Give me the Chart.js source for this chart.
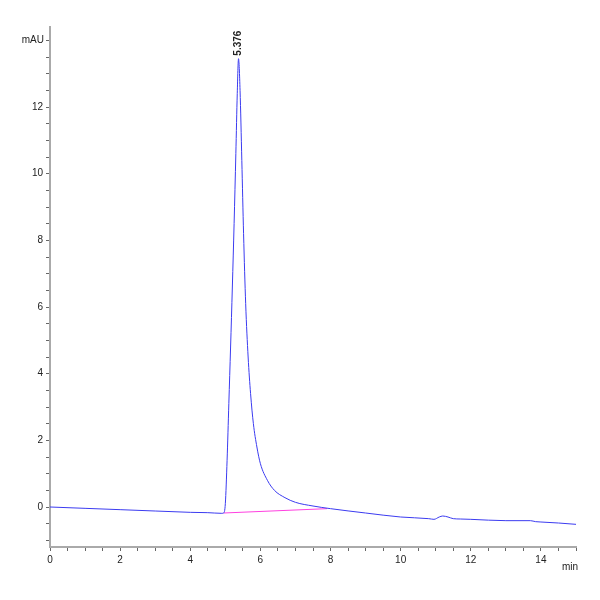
<!DOCTYPE html>
<html lang="en">
<head>
<meta charset="UTF-8">
<title>Chromatogram</title>
<script src="https://cdn.jsdelivr.net/npm/chart.js@4"></script>
<style>
  body { margin: 0; background: #fff; }
  #wrap { width: 600px; height: 600px; }
</style>
</head>
<body>
<div id="wrap"><canvas id="myChart"></canvas></div>
<script>
// signal (mAU) vs retention time (min)
var times = [0, 1, 2, 3, 4, 4.5, 4.9, 4.95, 5.0, 5.05, 5.1, 5.15, 5.2, 5.25, 5.3, 5.34, 5.376, 5.42, 5.47, 5.52, 5.58, 5.65, 5.72, 5.8, 5.9, 6.0, 6.2, 6.4, 6.7, 7.0, 7.5, 8, 9, 10, 10.8, 10.95, 11.1, 11.2, 11.35, 11.5, 11.7, 12, 13, 13.7, 13.85, 14, 14.5, 15];
var signal = [0, -0.04, -0.08, -0.12, -0.16, -0.17, -0.19, -0.18, 0.1, 1.4, 3.1, 4.8, 6.6, 8.5, 10.6, 12.4, 13.45, 12.5, 10.4, 8.2, 6.1, 4.5, 3.4, 2.5, 1.8, 1.3, 0.8, 0.5, 0.28, 0.14, 0.03, -0.05, -0.18, -0.3, -0.35, -0.37, -0.3, -0.27, -0.3, -0.35, -0.36, -0.37, -0.41, -0.41, -0.44, -0.45, -0.48, -0.52];
var baseTimes = [4.95, 7.9];
var baseValues = [-0.18, -0.05];
var peakTime = 5.376;
var peakValue = 13.45;
var peakLabel = '5.376';

var font = { family: 'Liberation Sans', size: 10 };

var extras = {
    id: 'extras',
    afterDraw(chart) {
        var c = chart.ctx, x = chart.scales.x, y = chart.scales.y;
        c.save();
        c.fillStyle = '#222';
        c.font = '10px "Liberation Sans"';
        c.textBaseline = 'middle';
        c.textAlign = 'right';
        c.fillText('mAU', x.left - 6, y.getPixelForValue(14));
        c.textAlign = 'left';
        c.fillText('min', x.right - 14, x.bottom - 33);
        // peak label, reads bottom to top
        c.translate(x.getPixelForValue(peakTime), y.getPixelForValue(peakValue) - 3);
        c.rotate(-Math.PI / 2);
        c.textAlign = 'left';
        c.font = 'bold 10px "Liberation Sans"';
        c.fillText(peakLabel, 0, 0);
        c.restore();
    }
};

new Chart(document.getElementById('myChart'), {
    type: 'line',
    data: {
        datasets: [{
            data: times.map((t, i) => ({x: t, y: signal[i]})),
            borderColor: '#3b3bf0',
            borderWidth: 1,
            pointRadius: 0,
            cubicInterpolationMode: 'monotone'
        }, {
            data: baseTimes.map((t, i) => ({x: t, y: baseValues[i]})),
            borderColor: '#ff40e0',
            borderWidth: 1,
            pointRadius: 0
        }]
    },
    options: {
        animation: false,
        responsive: true,
        maintainAspectRatio: false,
        layout: { padding: { top: 27, right: 24 } },
        plugins: { legend: false, tooltip: false },
        scales: {
            x: {
                type: 'linear', min: 0, max: 15,
                afterFit(s) { s.height = 53; },
                grid: { drawOnChartArea: false, tickLength: 4, color: '#666' },
                border: { color: '#aaa', width: 2 },
                ticks: {
                    stepSize: 0.5, autoSkip: false, maxRotation: 0, font: font, color: '#222',
                    callback: v => (v % 2 === 0 && v < 15) ? v : ''
                }
            },
            y: {
                min: -1.2, max: 14.4,
                afterFit(s) { s.width = 50; },
                afterBuildTicks(s) {
                    var t = [];
                    for (var v = -1; v <= 14; v += 0.5) t.push({value: v});
                    s.ticks = t;
                },
                grid: { drawOnChartArea: false, tickLength: 4, color: '#666' },
                border: { color: '#aaa', width: 2 },
                ticks: {
                    autoSkip: false, font: font, color: '#222',
                    callback: v => (v % 2 === 0 && v < 14) ? v : ''
                }
            }
        }
    },
    plugins: [extras]
});
</script>
</body>
</html>
